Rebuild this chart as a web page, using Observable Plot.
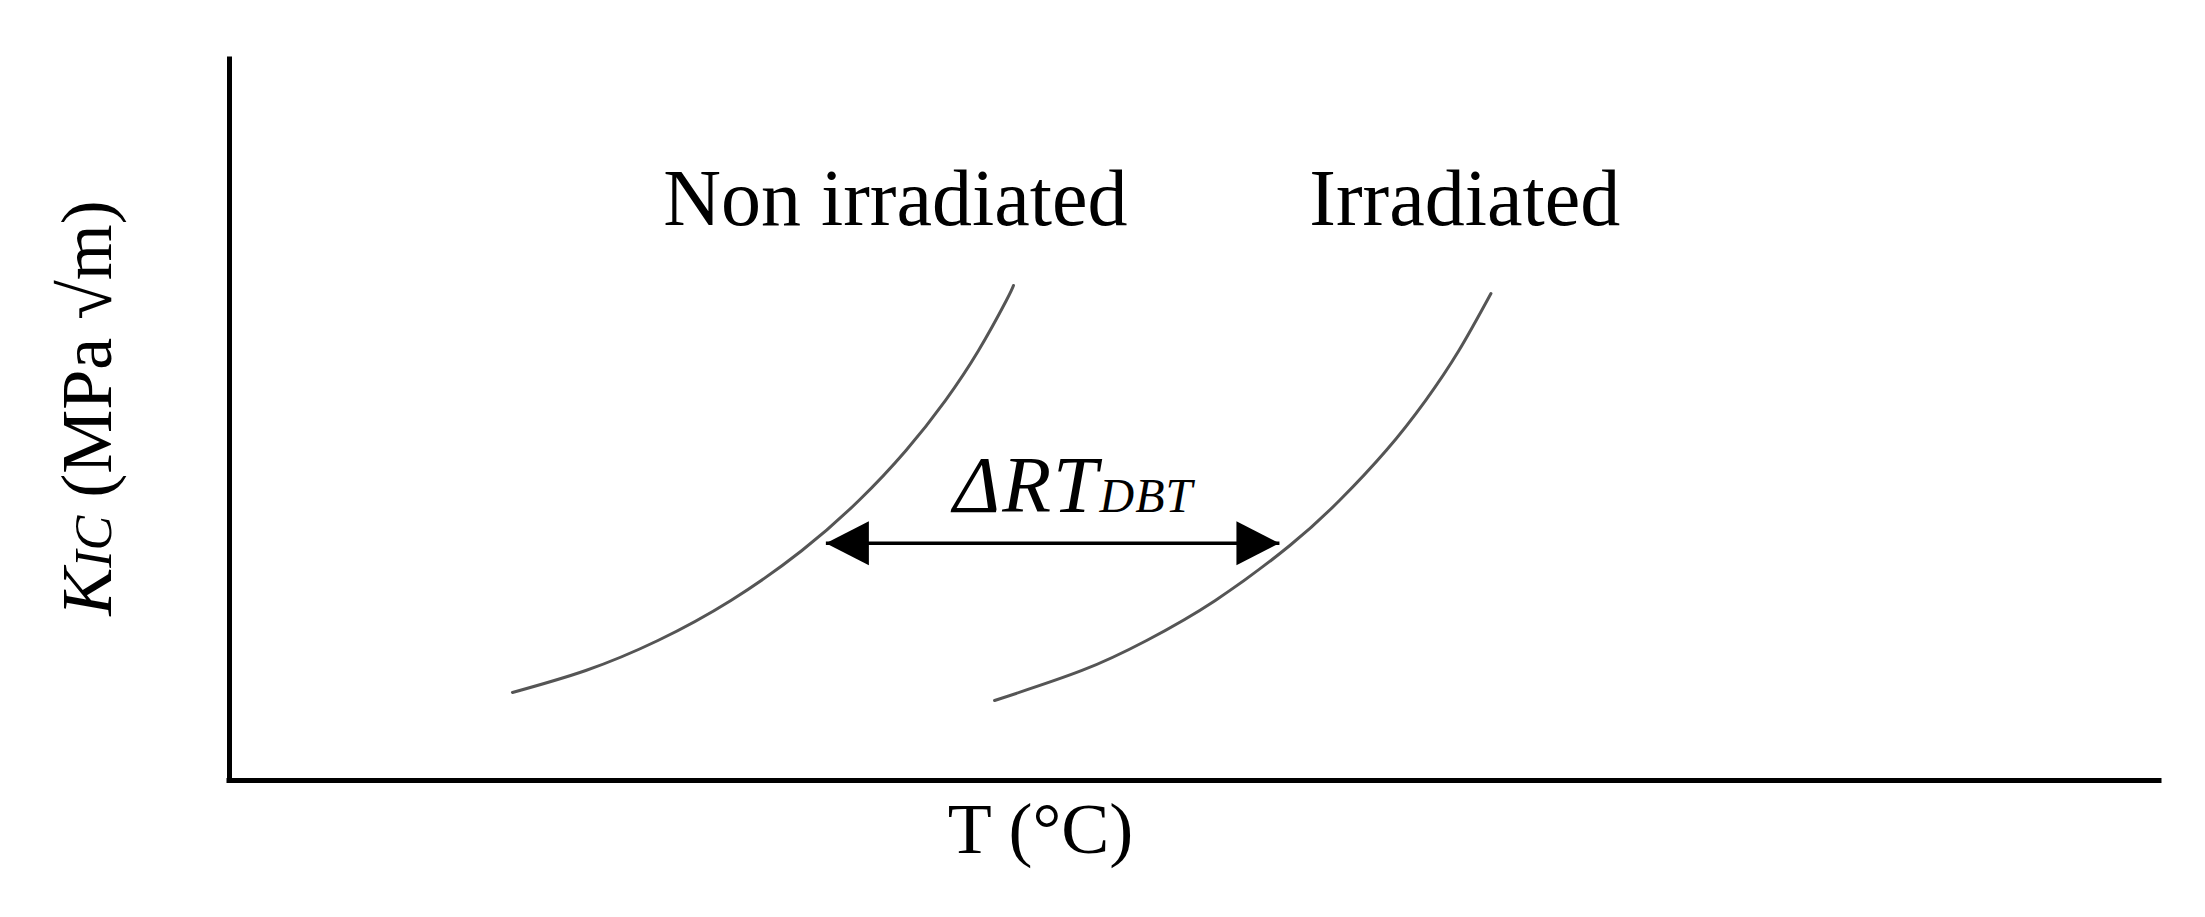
<!DOCTYPE html>
<html><head><meta charset="utf-8">
<script src="https://cdn.jsdelivr.net/npm/d3@7"></script>
<script src="https://cdn.jsdelivr.net/npm/@observablehq/plot@0.6"></script>
<style>html,body{margin:0;padding:0;background:#fff;} svg{display:block;}</style>
</head><body><div id="chart"></div>
<script>
// Fracture toughness transition curves (schematic, arbitrary units)
const nonIrrT = [14.66, 18.46, 22.20, 25.98, 29.66, 32.61, 35.05, 37.09, 38.81, 40.25, 40.62];
const nonIrrK = [12.21, 15.26, 19.42, 24.97, 31.90, 38.83, 45.77, 52.70, 59.64, 66.57, 68.65];
const irrT    = [39.64, 44.17, 47.52, 51.08, 54.94, 57.51, 59.93, 61.97, 63.70, 65.36];
const irrK    = [11.10, 15.26, 19.42, 24.97, 32.59, 38.83, 45.77, 52.70, 59.64, 67.55];
// ΔRT_DBT shift arrow (left tip, right tip)
const shiftT = [30.9, 54.4];
const shiftK = [32.9, 32.9];
// labels
const curveLabels = ["Non irradiated", "Irradiated"];
const curveLabelT = [34.5, 64.0];
const curveLabelK = [80.6, 80.6];
const shiftLabel = "ΔRTDBT";
const shiftLabelT = [37.5];
const shiftLabelK = [40.8];
const xLabel = "T (°C)";
const yLabel = "KIC (MPa √m)";

const nonIrr = nonIrrT.map((t, i) => ({t, k: nonIrrK[i]}));
const irr = irrT.map((t, i) => ({t, k: irrK[i]}));

const headLeft = {draw(ctx) { ctx.moveTo(0, 0); ctx.lineTo(43, -22); ctx.lineTo(43, 22); ctx.closePath(); }};
const headRight = {draw(ctx) { ctx.moveTo(0, 0); ctx.lineTo(-43, -22); ctx.lineTo(-43, 22); ctx.closePath(); }};

const serif = "'Liberation Serif', 'Times New Roman', serif";

const chart = Plot.plot({
  width: 2205,
  height: 917,
  marginLeft: 229,
  marginRight: 46,
  marginTop: 59,
  marginBottom: 137,
  style: {fontFamily: serif, background: "#fff", overflow: "visible"},
  x: {domain: [0, 100], axis: null},
  y: {domain: [0, 100], axis: null},
  marks: [
    Plot.ruleY([0], {stroke: "#000", strokeWidth: 5, strokeLinecap: "square"}),
    Plot.ruleX([0], {stroke: "#000", strokeWidth: 5, strokeLinecap: "square"}),
    Plot.line(nonIrr, {x: "t", y: "k", curve: "natural", stroke: "#555", strokeWidth: 3}),
    Plot.line(irr, {x: "t", y: "k", curve: "natural", stroke: "#555", strokeWidth: 3}),
    Plot.link([0], {x1: [shiftT[0]], x2: [shiftT[1]], y1: [shiftK[0]], y2: [shiftK[1]], stroke: "#000", strokeWidth: 3.5}),
    Plot.dot([0], {x: [shiftT[0]], y: [shiftK[0]], symbol: headLeft, r: 10, fill: "#000", stroke: "none"}),
    Plot.dot([0], {x: [shiftT[1]], y: [shiftK[1]], symbol: headRight, r: 10, fill: "#000", stroke: "none"}),
    Plot.text(curveLabels, {x: curveLabelT, y: curveLabelK, text: d => d, fontSize: 80, fill: "#000", textAnchor: "middle", lineAnchor: "middle"}),
    Plot.text([shiftLabel], {x: shiftLabelT, y: shiftLabelK, text: d => d, fontSize: 80, fill: "#000", textAnchor: "start", lineAnchor: "middle"}),
    Plot.text([xLabel], {frameAnchor: "bottom", text: d => d, fontSize: 72, fill: "#000", textAnchor: "middle", lineAnchor: "middle", dx: -154, dy: 49}),
    Plot.text([yLabel], {frameAnchor: "left", text: d => d, fontSize: 72, fill: "#000", rotate: -90, textAnchor: "middle", lineAnchor: "middle", dx: -142, dy: -12})
  ]
});

function rich(svg, content, parts) {
  for (const t of svg.querySelectorAll("text")) {
    if (t.textContent === content) {
      t.textContent = "";
      for (const [s, attrs] of parts) {
        const ts = document.createElementNS("http://www.w3.org/2000/svg", "tspan");
        ts.textContent = s;
        for (const k in attrs) ts.setAttribute(k, attrs[k]);
        t.appendChild(ts);
      }
    }
  }
}
rich(chart, yLabel, [["K", {"font-style": "italic"}], ["IC", {"font-style": "italic", "font-size": 52}], [" (MPa √m)", {}]]);
rich(chart, shiftLabel, [["ΔRT", {"font-style": "italic", "letter-spacing": 2}], ["DBT", {"font-style": "italic", "font-size": 48, "letter-spacing": 1}]]);

document.getElementById("chart").appendChild(chart);
</script>
</body></html>
